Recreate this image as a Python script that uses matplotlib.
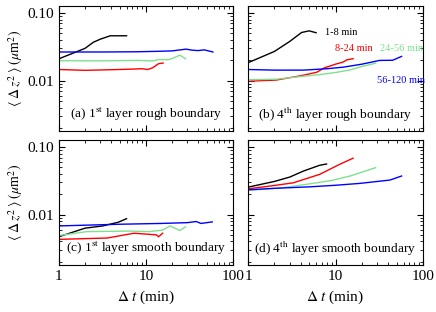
import numpy as np
import matplotlib.pyplot as plt

plt.rcParams['font.family'] = ['Liberation Serif', 'DejaVu Serif']
plt.rcParams['mathtext.fontset'] = 'stix'

GREEN = '#7fe08f'

# (a) 1st layer rough boundary
a_black_t = [1, 2, 2.5, 3, 3.9, 5, 6]
a_black_y = [0.021, 0.030, 0.037, 0.041, 0.046, 0.046, 0.046]
a_red_t = [1, 2, 4, 7, 9, 10.5, 12, 14, 15.8]
a_red_y = [0.0146, 0.0142, 0.0145, 0.0148, 0.0150, 0.0146, 0.0155, 0.0178, 0.0182]
a_green_t = [1, 3, 8, 12, 14, 18, 20, 24.6, 28.6]
a_green_y = [0.0197, 0.0196, 0.0199, 0.0196, 0.0205, 0.0204, 0.0212, 0.0238, 0.0210]
a_blue_t = [1, 3, 8, 15, 20, 25, 29, 34, 40, 47, 59]
a_blue_y = [0.0265, 0.0265, 0.0267, 0.0272, 0.0275, 0.0285, 0.0292, 0.0282, 0.0278, 0.0285, 0.0265]

# (b) 4th layer rough boundary
b_black_t = [1, 2, 3, 4.1, 5, 6]
b_black_y = [0.0184, 0.027, 0.038, 0.0515, 0.0544, 0.051]
b_red_t = [1, 2.1, 4, 6.1, 7.5, 8.6, 10, 12.2, 13.5, 15.9]
b_red_y = [0.0098, 0.0102, 0.0118, 0.0133, 0.0155, 0.0164, 0.0175, 0.0188, 0.0203, 0.0211]
b_green_t = [1, 2.1, 4, 6.65, 10, 14.7, 20, 28.8]
b_green_y = [0.0103, 0.0105, 0.0115, 0.0123, 0.0132, 0.0144, 0.0162, 0.0181]
b_blue_t = [1, 2, 4.3, 8, 12.2, 20, 32, 45, 57]
b_blue_y = [0.0146, 0.0143, 0.0143, 0.0150, 0.0158, 0.0175, 0.0199, 0.0200, 0.0228]

# (c) 1st layer smooth boundary
c_black_t = [1, 2, 3.2, 4.8, 6]
c_black_y = [0.0047, 0.0063, 0.0068, 0.0077, 0.0087]
c_red_t = [1, 3.6, 7.3, 11, 13.3, 14, 15.6]
c_red_y = [0.0043, 0.0045, 0.0053, 0.0051, 0.0050, 0.0047, 0.0053]
c_green_t = [1, 2.1, 6.6, 11, 15.6, 19, 24.6, 28.6]
c_green_y = [0.0049, 0.0056, 0.0057, 0.0056, 0.0059, 0.0068, 0.0058, 0.0066]
c_blue_t = [1, 5, 15, 30, 38, 43, 58]
c_blue_y = [0.0068, 0.0072, 0.0074, 0.0076, 0.0079, 0.0074, 0.0078]

# (d) 4th layer smooth boundary
d_black_t = [1, 2, 3, 4.3, 6.6, 7.9]
d_black_y = [0.0255, 0.031, 0.036, 0.0442, 0.0538, 0.0562]
d_red_t = [1, 2, 3.3, 6.6, 11.2, 15.9]
d_red_y = [0.0241, 0.027, 0.0296, 0.0395, 0.0557, 0.0685]
d_green_t = [1, 2.5, 5.1, 9, 14.7, 28.8]
d_green_y = [0.0228, 0.025, 0.0286, 0.032, 0.0373, 0.0496]
d_blue_t = [1, 2, 5.1, 10, 19, 42, 57]
d_blue_y = [0.0233, 0.0245, 0.0258, 0.0272, 0.029, 0.0325, 0.0373]

panels = [
    (r'(a) 1$^{\mathrm{st}}$ layer rough boundary',
     [(a_black_t, a_black_y), (a_red_t, a_red_y), (a_green_t, a_green_y), (a_blue_t, a_blue_y)]),
    (r'(b) 4$^{\mathrm{th}}$ layer rough boundary',
     [(b_black_t, b_black_y), (b_red_t, b_red_y), (b_green_t, b_green_y), (b_blue_t, b_blue_y)]),
    (r'(c) 1$^{\mathrm{st}}$ layer smooth boundary',
     [(c_black_t, c_black_y), (c_red_t, c_red_y), (c_green_t, c_green_y), (c_blue_t, c_blue_y)]),
    (r'(d) 4$^{\mathrm{th}}$ layer smooth boundary',
     [(d_black_t, d_black_y), (d_red_t, d_red_y), (d_green_t, d_green_y), (d_blue_t, d_blue_y)]),
]
colors = ['black', 'red', GREEN, 'blue']
labels = ['1-8 min', '8-24 min', '24-56 min', '56-120 min']

fig = plt.figure(figsize=(4.36, 3.12), dpi=100)
rects = [
    [0.135, 0.580, 0.399, 0.401],
    [0.569, 0.580, 0.401, 0.401],
    [0.135, 0.151, 0.399, 0.400],
    [0.569, 0.151, 0.401, 0.400],
]

for i, (title, series) in enumerate(panels):
    ax = fig.add_axes(rects[i])
    for (t, y), c in zip(series, colors):
        ax.plot(t, y, color=c, lw=1.0)
    ax.set_xscale('log')
    ax.set_yscale('log')
    ax.set_xlim(1, 100)
    ax.set_ylim(0.0018, 0.127)
    ax.set_yticks([0.01, 0.1])
    ax.set_xticks([1, 10, 100])
    ax.tick_params(which='both', direction='in', top=True, right=True, labelsize=11)
    ax.tick_params(which='major', length=4)
    ax.tick_params(which='minor', length=2)
    ax.text(0.5, 0.13, title, transform=ax.transAxes, ha='center', va='center', fontsize=9.6)
    if i % 2 == 0:
        ax.set_yticklabels(['0.01', '0.10'])
        ax.set_ylabel(r'$\langle\;\Delta\,z^{2}\;\rangle\;(\mu$m$^2)$', fontsize=10, labelpad=2)
    else:
        ax.set_yticklabels([])
    if i < 2:
        ax.set_xticklabels([])
    else:
        ax.set_xticklabels(['1', '10', '100'])
        ax.set_xlabel(r'$\Delta\ t$ (min)', fontsize=11)
    if i == 1:
        ax.text(7.6, 0.052, labels[0], color=colors[0], fontsize=7.5, va='center')
        ax.text(9.9, 0.030, labels[1], color=colors[1], fontsize=7.5, va='center')
        ax.text(32, 0.030, labels[2], color=colors[2], fontsize=7.5, va='center')
        ax.text(29.8, 0.010, labels[3], color=colors[3], fontsize=7.5, va='center')

fig.savefig('out.png', dpi=100)
